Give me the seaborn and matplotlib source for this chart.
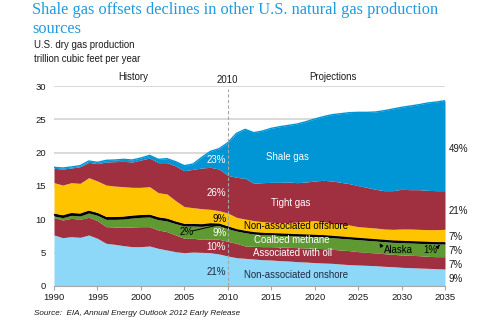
import matplotlib
matplotlib.use("Agg")
import matplotlib.pyplot as plt
import seaborn as sns
import numpy as np
import pandas as pd

# U.S. dry gas production by source, trillion cubic feet per year
years = list(range(1990, 2036))

onshore = [7.65, 7.25, 7.4, 7.3, 7.65, 7.15, 6.4, 6.25, 6.05, 5.9,
           5.9, 6.0, 5.65, 5.4, 5.15, 5.0, 5.1, 5.05, 5.0, 4.8,
           4.5, 4.25, 4.15, 4.05, 3.95, 3.9, 3.8, 3.75, 3.65, 3.6,
           3.5, 3.45, 3.4, 3.3, 3.2, 3.15, 3.1, 3.05, 2.95, 2.9,
           2.8, 2.75, 2.7, 2.65, 2.6, 2.55]
associated = [2.6, 2.65, 2.75, 2.7, 2.65, 2.65, 2.5, 2.6, 2.75, 2.95,
              3.0, 2.9, 2.75, 2.75, 2.5, 2.15, 2.05, 1.95, 2.05, 2.2,
              2.2, 2.15, 1.85, 1.9, 1.95, 2.0, 2.05, 2.05, 2.1, 2.1,
              2.15, 2.15, 2.1, 2.1, 2.1, 2.0, 1.95, 1.9, 1.9, 1.85,
              1.85, 1.85, 1.85, 1.8, 1.8, 1.85]
coalbed = [0.25, 0.35, 0.45, 0.5, 0.65, 0.8, 1.1, 1.15, 1.25, 1.35,
           1.4, 1.45, 1.55, 1.6, 1.7, 1.85, 1.85, 1.95, 2.05, 2.05,
           1.9, 1.85, 2.0, 1.85, 1.8, 1.75, 1.75, 1.75, 1.75, 1.75,
           1.75, 1.75, 1.75, 1.75, 1.75, 1.8, 1.8, 1.8, 1.8, 1.8,
           1.85, 1.85, 1.85, 1.9, 1.9, 1.9]
alaska = [0.4, 0.4, 0.4, 0.4, 0.4, 0.4, 0.4, 0.4, 0.4, 0.4,
          0.4, 0.4, 0.4, 0.4, 0.35, 0.35, 0.35, 0.35, 0.35, 0.35,
          0.4, 0.3, 0.3, 0.3, 0.3, 0.3, 0.3, 0.3, 0.3, 0.3,
          0.3, 0.3, 0.3, 0.3, 0.3, 0.3, 0.3, 0.3, 0.3, 0.3,
          0.3, 0.3, 0.3, 0.3, 0.3, 0.3]
offshore = [4.6, 4.5, 4.5, 4.5, 4.9, 4.75, 4.75, 4.6, 4.45, 4.2,
            4.1, 4.15, 3.65, 3.65, 3.1, 2.55, 2.4, 2.3, 2.05, 1.9,
            1.95, 1.75, 1.75, 1.7, 1.65, 1.6, 1.6, 1.65, 1.8, 1.95,
            2.1, 2.0, 1.85, 1.85, 1.8, 1.65, 1.65, 1.65, 1.6, 1.65,
            1.75, 1.8, 1.8, 1.8, 1.85, 1.9]
tight = [2.15, 2.4, 2.2, 2.5, 2.3, 2.6, 3.45, 3.65, 3.8, 3.8,
         4.1, 4.3, 4.5, 4.7, 5.2, 5.4, 5.75, 6.1, 6.3, 6.25,
         5.65, 6.0, 6.1, 5.6, 5.85, 6.0, 6.05, 6.1, 5.9, 5.9,
         5.95, 6.2, 6.35, 6.25, 6.2, 6.15, 6.0, 5.8, 5.75, 5.8,
         5.95, 5.9, 5.95, 5.9, 5.85, 5.8]
shale = [0.15, 0.15, 0.15, 0.15, 0.2, 0.2, 0.25, 0.25, 0.3, 0.3,
         0.3, 0.4, 0.5, 0.6, 0.65, 0.75, 0.8, 1.6, 2.4, 3.05,
         4.9, 6.6, 7.35, 7.6, 7.75, 8.1, 8.35, 8.5, 8.8, 9.05,
         9.3, 9.55, 9.95, 10.3, 10.65, 11.0, 11.25, 11.6, 12.0, 12.25,
         12.3, 12.55, 12.75, 13.1, 13.3, 13.5]

share_2035 = ["49%", "21%", "7%", "7%", "7%", "9%"]

colors = {
    "onshore": "#8DD8F8",
    "associated": "#A02F40",
    "coalbed": "#5E9A31",
    "alaska": "#000000",
    "offshore": "#FFC400",
    "tight": "#A02F40",
    "shale": "#0095D5",
}

df = pd.DataFrame({
    "year": years, "onshore": onshore, "associated": associated,
    "coalbed": coalbed, "alaska": alaska, "offshore": offshore,
    "tight": tight, "shale": shale,
})
order = ["onshore", "associated", "coalbed", "alaska", "offshore", "tight", "shale"]

sns.set_theme(style="white")
plt.rcParams["font.family"] = ["Liberation Sans", "DejaVu Sans"]

fig = plt.figure(figsize=(4.8, 3.23), dpi=100)
ax = fig.add_axes([0.1125, 0.1146, 0.8146, 0.6191])

# light horizontal gridlines behind the stacked areas
for yv in [5, 10, 15, 20, 25, 30]:
    ax.axhline(yv, color="#D9D9D9", lw=1.4, zorder=0)

ax.stackplot(df["year"], *[df[c] for c in order],
             colors=[colors[c] for c in order], lw=0, zorder=2)

# thin edge along the top of the shale band
total = df[order].sum(axis=1)
sns.lineplot(x=df["year"], y=total, color=colors["shale"], lw=1.0, ax=ax, zorder=3)

# Alaska drawn as a black ribbon with an emphasized centre line
cum_cb = df[["onshore", "associated", "coalbed"]].sum(axis=1)
cum_ak = cum_cb + df["alaska"]
sns.lineplot(x=df["year"], y=(cum_cb + cum_ak) / 2, color="black", lw=1.2, ax=ax, zorder=3)

ax.set_xlabel("")
ax.set_ylabel("")
ax.set_xlim(1990, 2035)
ax.set_ylim(0, 30)
ax.set_xticks(range(1990, 2036, 5))
ax.set_yticks(range(0, 31, 5))
ax.tick_params(axis="x", which="both", bottom=True, length=3, width=0.8,
               color="#A6A6A6", labelsize=6.8, pad=2, labelcolor="#1A1A1A")
ax.tick_params(axis="y", left=False, length=0, labelsize=6.8, pad=6, labelcolor="#1A1A1A")
for side in ["top", "right", "left"]:
    ax.spines[side].set_visible(False)
ax.spines["bottom"].set_color("#A6A6A6")
ax.spines["bottom"].set_linewidth(0.8)
ax.spines["bottom"].set_zorder(4)

# 2010 divider between history and projections
ax.plot([2010, 2010], [0, 29.6], color="#A6A6A6", lw=0.8, ls=(0, (3, 2)), zorder=4)
ax.text(2010, 30.9, "2010", ha="center", va="center", fontsize=6.9, color="#1A1A1A")
ax.text(1999.1, 31.3, "History", ha="center", va="center", fontsize=6.9, color="#1A1A1A")
ax.text(2022.1, 31.3, "Projections", ha="center", va="center", fontsize=6.9, color="#1A1A1A")

# series names inside the areas
lab = dict(fontsize=6.9, ha="center", va="center", zorder=5)
ax.text(2016.9, 19.4, "Shale gas", color="white", **lab)
ax.text(2017.2, 12.5, "Tight gas", color="white", **lab)
ax.text(2017.8, 8.95, "Non-associated offshore", color="black", **lab)
ax.text(2017.4, 6.85, "Coalbed methane", color="white", **lab)
ax.text(2017.4, 4.9, "Associated with oil", color="white", **lab)
ax.text(2017.8, 1.7, "Non-associated onshore", color="#1F2A44", **lab)
ax.text(2029.6, 5.45, "Alaska", color="black", **lab)
ax.text(2033.3, 5.45, "1%", color="black", **lab)
ax.annotate("", xy=(2027.3, 6.75), xytext=(2027.8, 5.75),
            arrowprops=dict(arrowstyle="-|>", color="black", lw=0.7,
                            mutation_scale=5), zorder=5)
ax.annotate("", xy=(2034.6, 6.45), xytext=(2034.1, 5.75),
            arrowprops=dict(arrowstyle="-|>", color="black", lw=0.7,
                            mutation_scale=5), zorder=5)

# 2010 shares
sh = dict(fontsize=7, ha="center", va="center", zorder=5)
ax.text(2008.7, 18.9, "23%", color="white", **sh)
ax.text(2008.7, 13.9, "26%", color="white", **sh)
ax.text(2009.1, 10.05, "9%", color="black", **sh)
ax.text(2009.1, 7.95, "9%", color="white", **sh)
ax.text(2008.7, 5.85, "10%", color="white", **sh)
ax.text(2008.7, 2.05, "21%", color="#1F2A44", **sh)
ax.text(2005.3, 8.1, "2%", color="black", **sh)
ax.plot([2005.9, 2008.7], [8.25, 9.1], color="black", lw=0.7, zorder=5)

# 2035 shares on the right edge
for yv, s in zip([20.6, 11.2, 7.3, 5.25, 3.15, 1.05], share_2035):
    ax.text(2035.4, yv, s, ha="left", va="center", fontsize=7,
            color="#1A1A1A", clip_on=False)

fig.text(0.067, 0.970, "Shale gas offsets declines in other U.S. natural gas production",
         family=["Liberation Serif"], fontsize=11.8, color="#1F9BDE", va="center")
fig.text(0.067, 0.911, "sources", family=["Liberation Serif"], fontsize=11.8,
         color="#1F9BDE", va="center")
fig.text(0.071, 0.861, "U.S. dry gas production", fontsize=6.9, color="#1A1A1A", va="center")
fig.text(0.071, 0.817, "trillion cubic feet per year", fontsize=6.9, color="#1A1A1A", va="center")
fig.text(0.071, 0.029, "Source:  EIA, Annual Energy Outlook 2012 Early Release",
         fontsize=5.9, style="italic", color="#1A1A1A", va="center")

fig.savefig("out.png", dpi=100, facecolor="white")
